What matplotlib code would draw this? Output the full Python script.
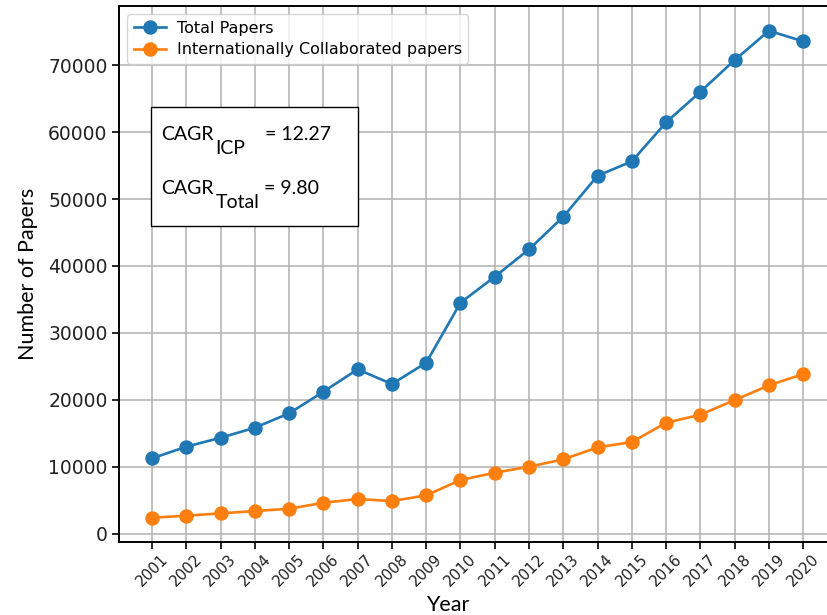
import matplotlib
matplotlib.use('Agg')
import matplotlib.pyplot as plt
from matplotlib.patches import Rectangle

years = [2001, 2002, 2003, 2004, 2005, 2006, 2007, 2008, 2009, 2010,
         2011, 2012, 2013, 2014, 2015, 2016, 2017, 2018, 2019, 2020]
total_papers = [11240, 12975, 14320, 15815, 17967, 21196, 24544, 22347, 25531, 34499,
                38386, 42481, 47354, 53483, 55635, 61465, 66039, 70777, 75157, 73572]
icp_papers = [2362, 2661, 3019, 3363, 3707, 4604, 5157, 4858, 5710, 7997,
              9088, 9985, 11091, 12885, 13677, 16562, 17758, 19955, 22152, 23842]
cagr_icp = 12.27
cagr_total = 9.80

fig = plt.figure(figsize=(8.28, 6.15), dpi=100)
# axes runs past the right edge, as in the cropped original
ax = fig.add_axes([119.4 / 828, 1 - 542.1 / 615, 716.4 / 828, 535.7 / 615])

ax.plot(years, total_papers, '-o', color='#1f77b4', lw=1.9, ms=9.4, label='Total Papers')
ax.plot(years, icp_papers, '-o', color='#ff7f0e', lw=1.9, ms=9.4,
        label='Internationally Collaborated papers')
ax.set_xlim(2000.05, 2020.95)

ax.set_xticks(years)
ax.set_xticklabels([str(y) for y in years], rotation=45, ha='center', fontsize=10.8,
                   color='#222222')
ax.tick_params(axis='y', labelsize=13.5, length=5, width=1.2, labelcolor='#222222')
ax.tick_params(axis='x', length=5, width=1.2, pad=2)
ax.grid(True, color='#b0b0b0', lw=1.1)
for s in ax.spines.values():
    s.set_linewidth(1.4)
ax.spines['right'].set_visible(False)

ax.set_ylabel('Number of Papers', fontsize=15.5, family='Lato')
ax.yaxis.set_label_coords((38 - 119.4) / 716.4, 0.5)
ax.text((447.5 - 119.4) / 716.4, (542.1 - 605) / 535.7, 'Year', transform=ax.transAxes,
        ha='center', va='center', fontsize=15.5, family='Lato')

ax.legend(loc='upper left', fontsize=11.5, labelspacing=0.4, borderpad=0.4,
          handletextpad=0.7)

# CAGR box
def ax_xy(px, py):
    return (px - 119.4) / 716.4, (542.1 - py) / 535.7

x0, y0 = ax_xy(151, 226)
x1, y1 = ax_xy(358, 107)
ax.add_patch(Rectangle((x0, y0), x1 - x0, y1 - y0, transform=ax.transAxes,
                       facecolor='white', edgecolor='black', lw=1.0, zorder=5))
kw = dict(transform=ax.transAxes, va='center', ha='left', fontsize=14, family='Lato', zorder=6)
ax.text(*ax_xy(161, 134.5), 'CAGR', **kw)
ax.text(*ax_xy(215, 148), 'ICP', **kw)
ax.text(*ax_xy(265, 134), f'= {cagr_icp:.2f}', **kw)
ax.text(*ax_xy(161, 188), 'CAGR', **kw)
ax.text(*ax_xy(216, 203), 'Total', **kw)
ax.text(*ax_xy(264, 188), f'= {cagr_total:.2f}', **kw)

fig.savefig('out.png', dpi=100)
